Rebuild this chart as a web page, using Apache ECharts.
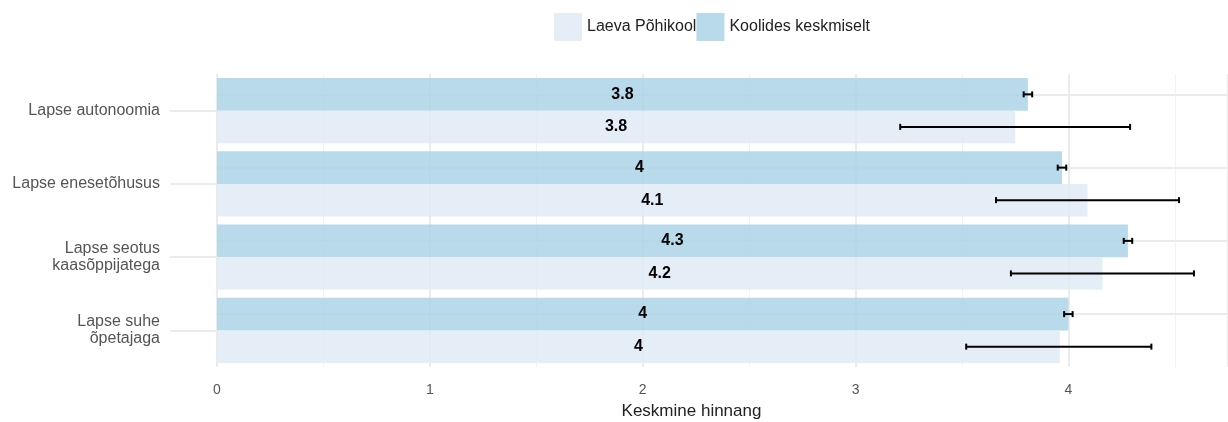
<!DOCTYPE html>
<html>
<head>
<meta charset="utf-8">
<script src="https://cdn.jsdelivr.net/npm/echarts@6/dist/echarts.min.js"></script>
<style>
  html, body { margin: 0; padding: 0; background: #fff; }
  #chart { width: 1228px; height: 422px; }
</style>
</head>
<body>
<div id="chart"></div>
<script>
const categories = ['Lapse autonoomia', 'Lapse enesetõhusus', 'Lapse seotus\nkaasõppijatega', 'Lapse suhe\nõpetajaga'];
const seriesNames = ['Laeva Põhikool', 'Koolides keskmiselt'];
const laevaValues = [3.75, 4.09, 4.16, 3.96];
const laevaLow = [3.21, 3.66, 3.73, 3.52];
const laevaHigh = [4.29, 4.52, 4.59, 4.39];
const koolidValues = [3.81, 3.97, 4.28, 4.00];
const koolidLow = [3.79, 3.95, 4.26, 3.98];
const koolidHigh = [3.83, 3.99, 4.30, 4.02];
const xTicks = [0, 1, 2, 3, 4];

const font = '"Liberation Sans", Arial, sans-serif';

// error bar drawn with its own vertical offset inside the category band
function errorBar(offset) {
  return function (params, api) {
    const y = api.value(0);
    const lo = api.coord([api.value(1), y]);
    const hi = api.coord([api.value(2), y]);
    const band = api.size([0, 1])[1];
    const cy = lo[1] + band * offset;
    const cap = 3;
    const style = { stroke: '#000', lineWidth: 2 };
    return {
      type: 'group',
      children: [
        { type: 'line', shape: { x1: lo[0], y1: cy, x2: hi[0], y2: cy }, style: style },
        { type: 'line', shape: { x1: lo[0], y1: cy - cap, x2: lo[0], y2: cy + cap }, style: style },
        { type: 'line', shape: { x1: hi[0], y1: cy - cap, x2: hi[0], y2: cy + cap }, style: style }
      ]
    };
  };
}

const labelStyle = {
  show: true,
  position: 'inside',
  color: '#000',
  fontWeight: 'bold',
  fontSize: 16,
  fontFamily: font,
  formatter: (p) => String(Math.round(p.value * 10) / 10)
};

const chart = echarts.init(document.getElementById('chart'));
chart.setOption({
  animation: false,
  textStyle: { fontFamily: font },
  legend: {
    data: seriesNames,
    top: 8,
    left: 549,
    icon: 'rect',
    itemWidth: 28,
    itemHeight: 28,
    itemGap: 0,
    textStyle: { color: '#222', fontSize: 16 }
  },
  grid: { top: 74, bottom: 55, left: 217, right: 0, outerBoundsMode: 'none' },
  xAxis: {
    type: 'value',
    min: 0,
    max: 4.75,
    interval: 1,
    axisLine: { show: false },
    axisTick: { show: false },
    axisLabel: {
      color: '#555',
      fontSize: 14,
      margin: 16,
      customValues: xTicks
    },
    splitLine: { lineStyle: { color: '#ebebeb', width: 2 } },
    minorTick: { show: false, splitNumber: 2 },
    minorSplitLine: { show: true, lineStyle: { color: '#f2f2f2', width: 1 } },
    name: 'Keskmine hinnang',
    nameLocation: 'middle',
    nameGap: 36,
    nameTextStyle: { color: '#222', fontSize: 17, padding: [0, 62, 0, 0] }
  },
  yAxis: {
    type: 'category',
    data: categories,
    inverse: true,
    axisLine: { show: false },
    axisTick: { show: true, alignWithLabel: true, length: 47, lineStyle: { color: '#ebebeb', width: 2 } },
    axisLabel: { color: '#555', fontSize: 16, margin: 57, lineHeight: 17 },
    splitLine: { show: false }
  },
  series: [
    {
      name: seriesNames[1],
      type: 'bar',
      data: koolidValues,
      barGap: '0%',
      barCategoryGap: '11%',
      itemStyle: { color: 'rgba(173,212,230,0.85)' },
      label: labelStyle,
      markLine: {
        silent: true,
        symbol: 'none',
        z: 1,
        label: { show: false },
        lineStyle: { color: '#ebebeb', width: 2, type: 'solid' },
        data: categories.map((c) => ({ yAxis: c }))
      }
    },
    {
      name: seriesNames[0],
      type: 'bar',
      data: laevaValues,
      barGap: '0%',
      barCategoryGap: '11%',
      itemStyle: { color: 'rgba(225,235,246,0.85)' },
      label: labelStyle
    },
    {
      type: 'custom',
      renderItem: errorBar(0.222),
      data: laevaLow.map((v, i) => [i, v, laevaHigh[i]]),
      encode: { y: 0, x: [1, 2] },
      z: 5
    },
    {
      type: 'custom',
      renderItem: errorBar(-0.222),
      data: koolidLow.map((v, i) => [i, v, koolidHigh[i]]),
      encode: { y: 0, x: [1, 2] },
      z: 5
    }
  ]
});
</script>
</body>
</html>
